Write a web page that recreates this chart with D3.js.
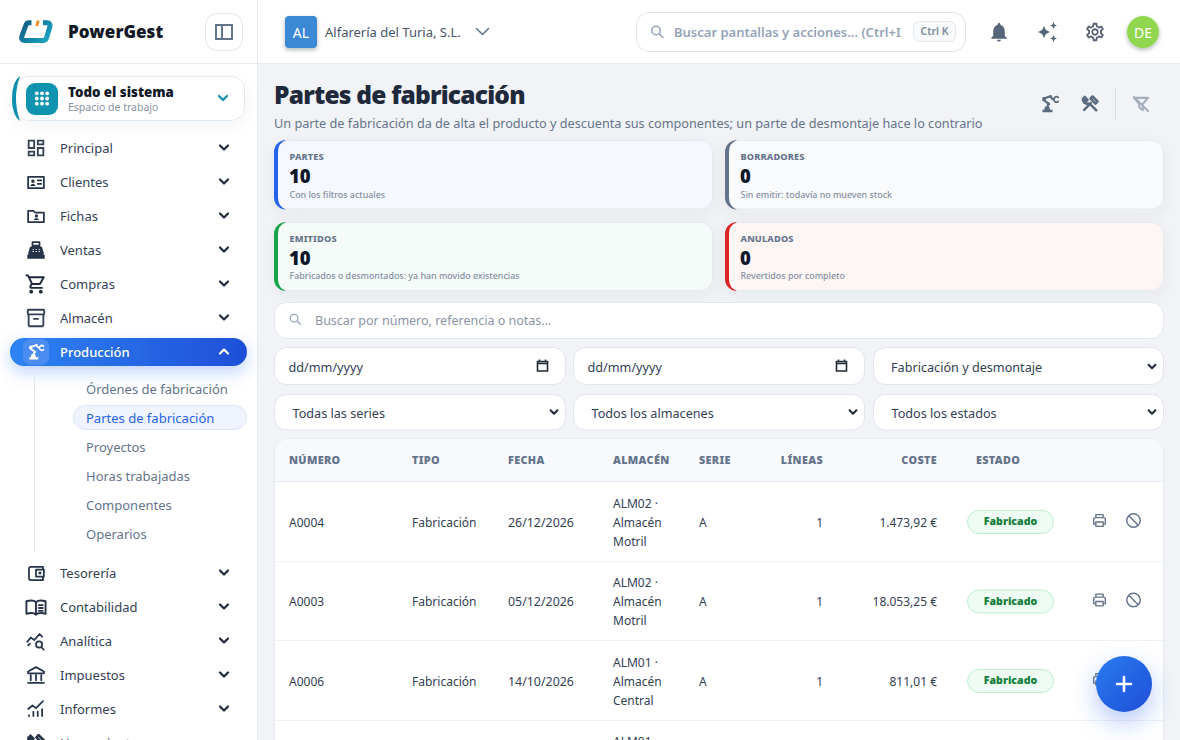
<!DOCTYPE html>
<html lang="es"><head><meta charset="utf-8">
<style>html,body{margin:0;padding:0;background:#f1f3f6;overflow:hidden}svg{display:block}text{font-family:"Noto Sans",sans-serif}</style>
<script src="https://cdn.jsdelivr.net/npm/d3@7"></script></head><body>
<script>
const navTop=["Principal","Clientes","Fichas","Ventas","Compras","Almacén","Producción"];
const navSub=["Órdenes de fabricación","Partes de fabricación","Proyectos","Horas trabajadas","Componentes","Operarios"];
const navBottom=["Tesorería","Contabilidad","Analítica","Impuestos","Informes","Herramientas"];
const statLabels=["PARTES","BORRADORES","EMITIDOS","ANULADOS"];
const statValues=[10,0,10,0];
const statNotes=["Con los filtros actuales","Sin emitir: todavía no mueven stock","Fabricados o desmontados: ya han movido existencias","Revertidos por completo"];
const statFills=["#f5f8fe","#f9fafc","#f4fbf8","#fef6f5"];
const statAccents=["#2563eb","#64748b","#16a34a","#dc2626"];
const filterLabels=["dd/mm/yyyy","dd/mm/yyyy","Fabricación y desmontaje","Todas las series","Todos los almacenes","Todos los estados"];
const columns=["NÚMERO","TIPO","FECHA","ALMACÉN","SERIE","LÍNEAS","COSTE","ESTADO"];
const numeros=["A0004","A0003","A0006"];
const tipos=["Fabricación","Fabricación","Fabricación"];
const fechas=["26/12/2026","05/12/2026","14/10/2026"];
const almacenes=[["ALM02 ·","Almacén","Motril"],["ALM02 ·","Almacén","Motril"],["ALM01 ·","Almacén","Central"]];
const almacenFilaCortada="ALM01 ·";
const series=["A","A","A"];
const lineas=[1,1,1];
const costes=["1.473,92 €","18.053,25 €","811,01 €"];
const estados=["Fabricado","Fabricado","Fabricado"];

const W=1180,H=740,FONT='"Noto Sans",sans-serif';
const P={
 grid:"M19 5v2h-4V5h4M9 5v6H5V5h4m10 8v6h-4v-6h4M9 17v2H5v-2h4M21 3h-8v6h8V3zM11 3H3v10h8V3zm10 8h-8v10h8V11zM11 15H3v6h8v-6z",
 cart:"M15.55 13c.75 0 1.41-.41 1.75-1.03l3.58-6.49A.996.996 0 0 0 20.01 4H5.21l-.94-2H1v2h2l3.6 7.59-1.35 2.44C4.52 15.37 5.48 17 7 17h12v-2H7l1.1-2h7.45zM6.16 6h12.15l-2.76 5H8.53L6.16 6zM7 18c-1.1 0-1.99.9-1.99 2S5.9 22 7 22s2-.9 2-2-.9-2-2-2zm10 0c-1.1 0-1.99.9-1.99 2s.89 2 1.99 2 2-.9 2-2-.9-2-2-2z",
 box:"M20 2H4c-1 0-2 .9-2 2v3.01c0 .72.43 1.34 1 1.69V20c0 1.1 1.1 2 2 2h14c.9 0 2-.9 2-2V8.7c.57-.35 1-.97 1-1.69V4c0-1.1-1-2-2-2zm-1 18H5V9h14v11zm1-13H4V4h16v3zM9 12h6v2H9z",
 bell:"M12 22c1.1 0 2-.9 2-2h-4c0 1.1.9 2 2 2zm6-6v-5c0-3.07-1.63-5.64-4.5-6.32V4c0-.83-.67-1.5-1.5-1.5s-1.5.67-1.5 1.5v.68C7.64 5.36 6 7.92 6 11v5l-2 2v1h16v-1l-2-2z",
 gear:"M19.43 12.98c.04-.32.07-.64.07-.98 0-.34-.03-.66-.07-.98l2.11-1.65c.19-.15.24-.42.12-.64l-2-3.46c-.09-.16-.26-.25-.44-.25-.06 0-.12.01-.17.03l-2.49 1c-.52-.4-1.08-.73-1.69-.98l-.38-2.65C14.46 2.18 14.25 2 14 2h-4c-.25 0-.46.18-.49.42l-.38 2.65c-.61.25-1.17.59-1.69.98l-2.49-1c-.06-.02-.12-.03-.18-.03-.17 0-.34.09-.43.25l-2 3.46c-.13.22-.07.49.12.64l2.11 1.65c-.04.32-.07.65-.07.98 0 .33.03.66.07.98l-2.11 1.65c-.19.15-.24.42-.12.64l2 3.46c.09.16.26.25.44.25.06 0 .12-.01.17-.03l2.49-1c.52.4 1.08.73 1.69.98l.38 2.65c.03.24.24.42.49.42h4c.25 0 .46-.18.49-.42l.38-2.65c.61-.25 1.17-.59 1.69-.98l2.49 1c.06.02.12.03.18.03.17 0 .34-.09.43-.25l2-3.46c.12-.22.07-.49-.12-.64l-2.11-1.65zm-1.98-1.71c.04.31.05.52.05.73 0 .21-.02.43-.05.73l-.14 1.13.89.7 1.08.84-.7 1.21-1.27-.51-1.04-.42-.9.68c-.43.32-.84.56-1.25.73l-1.06.43-.16 1.13-.2 1.35h-1.4l-.19-1.35-.16-1.13-1.06-.43c-.43-.18-.83-.41-1.23-.71l-.91-.7-1.06.43-1.27.51-.7-1.21 1.08-.84.89-.7-.14-1.13c-.03-.31-.05-.54-.05-.74s.02-.43.05-.73l.14-1.13-.89-.7-1.08-.84.7-1.21 1.27.51 1.04.42.9-.68c.43-.32.84-.56 1.25-.73l1.06-.43.16-1.13.2-1.35h1.39l.19 1.35.16 1.13 1.06.43c.43.18.83.41 1.23.71l.91.7 1.06-.43 1.27-.51.7 1.21-1.07.85-.89.7.14 1.13zM12 8c-2.21 0-4 1.79-4 4s1.79 4 4 4 4-1.79 4-4-1.79-4-4-4zm0 6c-1.1 0-2-.9-2-2s.9-2 2-2 2 .9 2 2-.9 2-2 2z"
};
const svg=d3.select("body").append("svg").attr("width",W).attr("height",H).attr("viewBox",`0 0 ${W} ${H}`);
const defs=svg.append("defs");
function grad(id,a,b,x2=1,y2=0){const g=defs.append("linearGradient").attr("id",id).attr("x1",0).attr("y1",0).attr("x2",x2).attr("y2",y2);
 g.append("stop").attr("offset",0).attr("stop-color",a);g.append("stop").attr("offset",1).attr("stop-color",b);}
grad("pill","#2f83f3","#1e4fd8");grad("fab","#2b7cf0","#1d4ed8",1,1);
defs.append("linearGradient").attr("id","logo").attr("gradientUnits","userSpaceOnUse").attr("x1",20).attr("y1",20).attr("x2",45).attr("y2",44).call(g=>{g.append("stop").attr("offset",0).attr("stop-color","#17507a");g.append("stop").attr("offset",.55).attr("stop-color","#1183a5");g.append("stop").attr("offset",1).attr("stop-color","#1fa6c2");});
function shadow(id,dy,b,c,o){const f=defs.append("filter").attr("id",id).attr("x","-60%").attr("y","-80%").attr("width","220%").attr("height","280%");
 f.append("feDropShadow").attr("dx",0).attr("dy",dy).attr("stdDeviation",b).attr("flood-color",c).attr("flood-opacity",o);}
shadow("sPill",6,8,"#2563eb",.28);shadow("sFab",10,12,"#2563eb",.35);shadow("sAv",2,2,"#0f172a",.3);shadow("sCard",4,8,"#334155",.05);

function rect(g,x,y,w,h,r,fill,stroke,sw=1){return g.append("rect").attr("x",x).attr("y",y).attr("width",w).attr("height",h).attr("rx",r).attr("fill",fill).attr("stroke",stroke||"none").attr("stroke-width",stroke?sw:0);}
function text(g,s,x,y,size,weight,fill,anchor="start",ls=0){return g.append("text").text(s).attr("x",x).attr("y",y).attr("font-size",size).attr("font-weight",weight).attr("fill",fill).attr("text-anchor",anchor).attr("dominant-baseline","central").attr("letter-spacing",ls||null).style("font-family",FONT);}
function icon(g,d,cx,cy,size,fill){return g.append("path").attr("d",d).attr("fill",fill).attr("transform",`translate(${cx-size/2},${cy-size/2}) scale(${size/24})`);}
function line(g,d,cx,cy,size,col,sw=2){return g.append("path").attr("d",d).attr("fill","none").attr("stroke",col).attr("stroke-width",sw).attr("stroke-linecap","round").attr("stroke-linejoin","round").attr("transform",`translate(${cx-size/2},${cy-size/2}) scale(${size/24})`);}
function chevron(g,cx,cy,up,col="#1e293b",w=4,h=4,sw=2.2){g.append("path").attr("d",up?`M${cx-w},${cy+h/2}L${cx},${cy-h/2}L${cx+w},${cy+h/2}`:`M${cx-w},${cy-h/2}L${cx},${cy+h/2}L${cx+w},${cy-h/2}`).attr("fill","none").attr("stroke",col).attr("stroke-width",sw).attr("stroke-linecap","round").attr("stroke-linejoin","round");}
function robot(g,cx,cy,size,col){
 line(g,"M4 7l7 5M10 11L8 20M5 5.5l8-3M12.5 3l2.5 3",cx,cy,size,col,2.6);
 line(g,"M22 4.2a3.2 3.2 0 1 0 0 4.6",cx,cy,size,col,2);
 icon(g,"M3 19h12v3H3zM6 15h5l1 4H5zM3 3.5h4v4H3z",cx,cy,size,col);
}
const tools="M5 19L13 11M5.5 3.5L9 7l-2 2-3.5-3.5a5 5 0 0 0 6.6 5.8M15 3l6 6-2.5 2.5-6-6zM13 13l6.5 6.5";

/* ---------- content ---------- */
const main=svg.append("g");
text(main,"Partes de fabricación",274,94.5,24.5,900,"#1e293b","start",-.78);
text(main,"Un parte de fabricación da de alta el producto y descuenta sus componentes; un parte de desmontaje hace lo contrario",274,123,12.68,400,"#64748b");
robot(main,1050,104,20,"#5b6b80");
line(main,tools,1090,104,20,"#5b6b80",3);
main.append("line").attr("x1",1115.5).attr("x2",1115.5).attr("y1",88).attr("y2",120).attr("stroke","#d8dde5");
line(main,"M4 5h16l-6 7v7l-4-3v-4zM4 4l16 16",1141,104,21,"#a6afbd",2.4);

/* stat cards */
const statY=d3.scaleOrdinal().domain([0,1]).range([140,222]);
const statG=main.selectAll("g.stat").data(statLabels).join("g").attr("class","stat")
 .attr("transform",(d,i)=>`translate(${[274,725][i%2]},${statY(Math.floor(i/2))})`);
statG.each(function(d,i){const g=d3.select(this);const w=439,h=i<2?69.5:69;
 rect(g,.5,.5,w-1,h-1,12,statFills[i],"#e5e9f1").attr("filter","url(#sCard)");
 g.append("path").attr("d",`M12,0A12,12 0 0 0 0,12V${h-12}A12,12 0 0 0 12,${h}Q4,${h-3} 4,${h-12}V12Q4,3 12,0Z`).attr("fill",statAccents[i]);
 text(g,d,15.5,16,9.2,800,"#64748b","start",.15);
 text(g,String(statValues[i]),15,35.5,18.5,900,"#0f172a");
 text(g,statNotes[i],15.5,i<2?54.5:53,8.9,500,"#8490a3");
});
/* search */
rect(main,274.5,302.5,889,36,12,"#fff","#e3e7ef");
line(main,"M10.5 4a6.5 6.5 0 1 0 0 13 6.5 6.5 0 0 0 0-13zM15.5 15.5L21 21",295,319,14,"#94a3b8",2.2);
text(main,"Buscar por número, referencia o notas...",315,320.5,12.5,400,"#8a94a6");
/* filters */
const filX=[[274.5,291],[573.5,291],[873.5,290]];
filterLabels.forEach((t,i)=>{const c=i%3,row=Math.floor(i/3),[x,w]=filX[c],y=row?394.5:347.5,h=row?35.5:37;
 rect(main,x,y,w,h,12,"#fff","#e1e5ed");
 const dt=i<2;
 text(main,t,x+(dt?14:row?18:17.5),y+(row?18.5:19.5),12.65,400,"#334155");
 if(dt){const cx=x+268,cy=y+18;main.append("path").attr("d",`M${cx-5},${cy-4}h10v9.5h-10zM${cx-5},${cy-2}h10`).attr("fill","none").attr("stroke","#1f2937").attr("stroke-width",1.6);main.append("path").attr("d",`M${cx-3},${cy-6}v2M${cx+3},${cy-6}v2`).attr("stroke","#1f2937").attr("stroke-width",1.4);}
 else chevron(main,x+w-11.5,y+(row?17.5:19),false,"#1f2937",3.4,3.4,2);
});
/* table */
const clip=defs.append("clipPath").attr("id","tbl");clip.append("rect").attr("x",274).attr("y",438).attr("width",890).attr("height",320).attr("rx",13);
const tbl=main.append("g").attr("clip-path","url(#tbl)");
rect(tbl,274,438,890,320,0,"#fff");
rect(tbl,274,438,890,43,0,"#f8f9fc");
tbl.append("line").attr("x1",274).attr("x2",1164).attr("y1",481.5).attr("y2",481.5).attr("stroke","#e4e8ef");
const colX=[289,412,508,613,699,823,937,976];
const colAnchor=["start","start","start","start","start","end","end","start"];
tbl.selectAll("text.h").data(columns).join("text").attr("class","h").text(d=>d).attr("x",(d,i)=>colX[i]).attr("y",459.3).attr("text-anchor",(d,i)=>colAnchor[i]).attr("dominant-baseline","central").attr("font-size",10.8).attr("font-weight",900).attr("letter-spacing",.35).attr("fill","#64748b").style("font-family",FONT);
const rowY=d3.scaleLinear().domain([0,1]).range([522,601.5]);
numeros.forEach((n,i)=>{const y=rowY(i);
 tbl.append("line").attr("x1",274).attr("x2",1164).attr("y1",Math.round(y+38.8)+.5).attr("y2",Math.round(y+38.8)+.5).attr("stroke","#eef1f5");
 text(tbl,n,289,y,12,400,"#334155");
 text(tbl,tipos[i],412,y,12,400,"#334155");
 text(tbl,fechas[i],508,y,12.4,400,"#334155");
 almacenes[i].forEach((l,k)=>text(tbl,l,613,y+(k-1)*19,12,400,"#334155"));
 text(tbl,series[i],699,y,12,400,"#334155");
 text(tbl,String(lineas[i]),823,y,12,400,"#334155","end");
 text(tbl,costes[i],937,y,12,400,"#334155","end");
 rect(tbl,967.5,y-11.5,86,23,11.5,"#effcf3","#bbf0cd");
 text(tbl,estados[i],1010.5,y-1,10.6,900,"#15803d","middle");
 line(tbl,"M7 8V4h10v4M7 17H4v-6.5A2.5 2.5 0 0 1 6.5 8h11a2.5 2.5 0 0 1 2.5 2.5V17h-3M7 14h10v6H7z",1099.5,y-1.5,17.5,"#64748b",1.9);
 line(tbl,"M12 3a9 9 0 1 0 0 18 9 9 0 0 0 0-18zM5.7 5.7l12.6 12.6",1133.5,y-1.5,18,"#64748b",1.9);
});
text(tbl,almacenFilaCortada,613,rowY(3)-19,12,400,"#334155");
main.append("rect").attr("x",274.5).attr("y",438.5).attr("width",889).attr("height",320).attr("rx",13).attr("fill","none").attr("stroke","#e5e9f0");
/* fab */
svg.append("circle").attr("cx",1124).attr("cy",684).attr("r",28).attr("fill","url(#fab)").attr("filter","url(#sFab)");
svg.append("path").attr("d","M1124,677v14M1117,684h14").attr("stroke","#fff").attr("stroke-width",2.6).attr("stroke-linecap","round");

/* ---------- header ---------- */
const head=svg.append("g");
rect(head,258,0,922,63,0,"#fff");
head.append("line").attr("x1",258).attr("x2",1180).attr("y1",63.5).attr("y2",63.5).attr("stroke","#e6e9f0");
rect(head,285,16,32,32,4,"#3a88d5").attr("filter","url(#sAv)");
text(head,"AL",301,32,14,400,"#fff","middle");
text(head,"Alfarería del Turia, S.L.",325,31.5,13,400,"#475569");
chevron(head,482.5,31.5,false,"#64748b",6,6,1.6);
rect(head,636.5,12.5,329,39,13,"#fff","#dde2ec");
line(head,"M10.5 4a6.5 6.5 0 1 0 0 13 6.5 6.5 0 0 0 0-13zM15.5 15.5L21 21",657,31.5,16,"#94a3b8",2.3);
text(head,"Buscar pantallas y acciones... (Ctrl+I",674,32,13,600,"#94a3b8");
rect(head,913.5,21.5,42,20,6,"#f8fafc","#e2e6ee");
text(head,"Ctrl K",934.5,30.5,10.5,600,"#7b8aa0","middle");
icon(head,P.bell,999,32,23,"#566579");
icon(head,"M9 6l1.9 4.1L15 12l-4.1 1.9L9 18l-1.9-4.1L3 12l4.1-1.9zM18.5 2l1.1 2.4L22 5.5l-2.4 1.1L18.5 9l-1.1-2.4L15 5.5l2.4-1.1zM18.5 15l1.1 2.4L22 18.5l-2.4 1.1L18.5 22l-1.1-2.4L15 18.5l2.4-1.1z",1047,32,24,"#566579");
icon(head,P.gear,1095,32,22,"#566579");
svg.append("circle").attr("cx",1143).attr("cy",32).attr("r",16).attr("fill","#91d64f").attr("filter","url(#sAv)");
text(svg,"DE",1143,32,14,400,"#fff","middle");

/* ---------- sidebar ---------- */
const side=svg.append("g");
rect(side,0,0,257,H,0,"#fff");
side.append("line").attr("x1",257.5).attr("x2",257.5).attr("y1",0).attr("y2",H).attr("stroke","#e6e9f0");
side.append("line").attr("x1",0).attr("x2",257).attr("y1",63.5).attr("y2",63.5).attr("stroke","#e6e9f0");
side.append("path").attr("d","M31.5,22.8H29Q26.8,22.8 26,25L21.8,36.5Q20.8,40.5 25,40.5H43Q45.5,40.5 46.5,38L49.8,27Q50.8,22.8 47,22.8H43").attr("fill","none").attr("stroke","url(#logo)").attr("stroke-width",5).attr("stroke-linecap","butt");
side.append("path").attr("d","M38.2,20.5L36.8,26").attr("stroke","#f28c28").attr("stroke-width",3).attr("stroke-linecap","butt");
text(side,"PowerGest",68,31.5,17,900,"#111827","start",.05);
rect(side,205.5,13.5,37,37,12,"#fff","#e2e7f0");
side.append("path").attr("d","M216,25h16v14h-16zM222,25v14").attr("fill","none").attr("stroke","#64748b").attr("stroke-width",2);
/* workspace */
rect(side,15.5,76.5,229,44,13,"#fff","#e4e8f0").attr("filter","url(#sCard)");
side.append("path").attr("d","M20,76A12,22.5 0 0 0 12,98.5A12,22.5 0 0 0 20,121Q16,110 16,98.5Q16,87 20,76Z").attr("fill","#0f8fae");
rect(side,26,83,32,32,9,"#0f93b0");
d3.range(9).forEach(i=>side.append("circle").attr("cx",36.8+(i%3)*5.2).attr("cy",93.3+Math.floor(i/3)*5.2).attr("r",1.9).attr("fill","#fff"));
text(side,"Todo el sistema",68,91.5,13.3,900,"#111827");
text(side,"Espacio de trabajo",68,106.5,10.5,400,"#8792a4");
chevron(side,223,98,false,"#0f8fae",4,4,2.2);
/* nav */
const navIcons={
 Clientes:"M3 6h18v13H3zM14 10h4M14 14h4",
 Fichas:"M3 6h6l2 2h10v11H3z",
 Ventas:"M8 3h8v4H8zM6 9h12l2 7H4zM3 18h18v3H3z",
 Tesorería:"M20 7V5H6a2 2 0 0 0-2 2v11a2 2 0 0 0 2 2h14v-4M12 8h9v8h-9z",
 Contabilidad:"M12 7C10 5 6 5 2 6v13c4-1 8-1 10 1 2-2 6-2 10-1V6c-4-1-8-1-10 1zM12 7v13M15 10h4M15 13h4M15 16h4",
 Analítica:"M2 13l4-5 4 3 6-7 3 3M12 16a3.5 3.5 0 1 0 7 0 3.5 3.5 0 0 0-7 0zM18 19l3 3M3 17l2-2",
 Impuestos:"M12 3l9 5v2H3V8zM6 12v6M12 12v6M18 12v6M3 21h18",
 Informes:"M3 12l5-4 4 3 8-8M4 20v-1M9 20v-5M14 20v-5M19 20v-8",
 Herramientas:tools
};
const navFill={Clientes:"M5.5 16.5c.5-2.8 5.5-2.8 6 0zM8.5 9.2a2 2 0 1 0 0 4 2 2 0 0 0 0-4z",Fichas:"M9.5 16.5c.5-2.5 5.5-2.5 6 0zM12.5 10a1.9 1.9 0 1 0 0 3.8 1.9 1.9 0 0 0 0-3.8z",Ventas:"M3 18h18v3H3zM6 9h12l2 7H4z",Tesorería:"M15 10.5h3v3h-3z"};
function drawItem(name,y,active){
 const g=side.append("g");
 const col=active?"#fff":"#1e293b";
 if(name==="Principal")icon(g,P.grid,36,y,22,"#334155");
 else if(name==="Compras")icon(g,P.cart,36,y,23,"#1e293b");
 else if(name==="Almacén")icon(g,P.box,36,y,22,"#334155");
 else if(navIcons[name])line(g,navIcons[name],36,y,name==="Contabilidad"?23:21,"#26344a",name==="Herramientas"?3:2);
 if(navFill[name])icon(g,navFill[name],36,y,21,"#26344a");
 if(name==="Ventas"){[0,1,2].forEach(c=>[0,1].forEach(r=>icon(g,`M${8+c*3.5} ${10.8+r*2.4}h1.5v1h-1.5z`,36,y,21,"#fff")));}
 text(g,name,60,y-.5,13,active?500:400,active?"#fff":"#334155");
 if(name!=="Herramientas")chevron(g,224,y-.5,active,col,4,4,2.2);
}
rect(side,10,338,237,28,14,"url(#pill)").attr("filter","url(#sPill)");
rect(side,23,339,26,26,8,"#4b8cf2");
robot(side,36,352,18,"#fff");
navTop.forEach((n,i)=>drawItem(n,148+i*34,n==="Producción"));
side.append("line").attr("x1",34.5).attr("x2",34.5).attr("y1",370).attr("y2",552).attr("stroke","#e2e8f0");
rect(side,73.5,405.5,173,24,12,"#eff4fe","#dbe6f8");
navSub.forEach((n,i)=>text(side,n,86,388.5+i*29,13,400,i===1?"#2563eb":"#64748b"));
navBottom.forEach((n,i)=>drawItem(n,573+i*34,false));
</script></body></html>
